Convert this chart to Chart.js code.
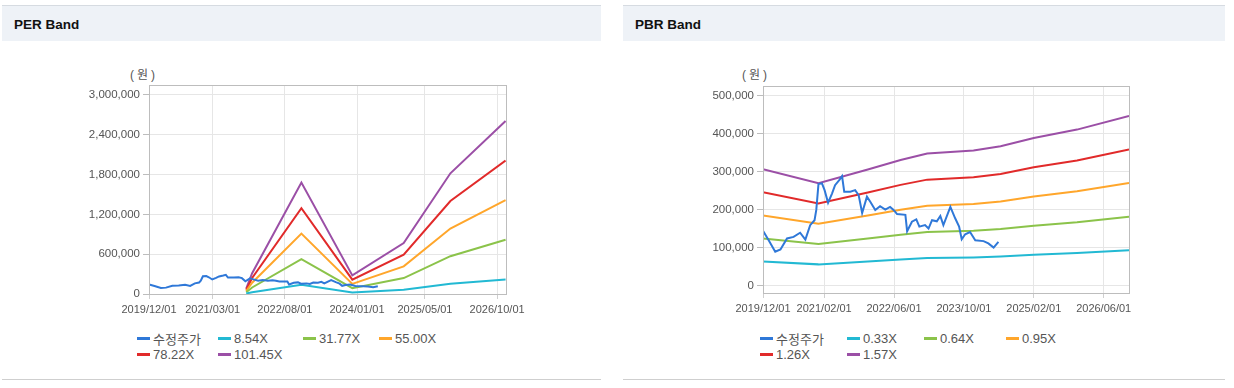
<!DOCTYPE html>
<html>
<head>
<meta charset="utf-8">
<script src="https://cdn.jsdelivr.net/npm/chart.js@4.4.1/dist/chart.umd.min.js"></script>
<style>
  body { margin: 0; width: 1234px; height: 388px; background: #fff; position: relative; overflow: hidden;
         font-family: "Liberation Sans", "Noto Sans CJK KR", sans-serif; }
  .panel { position: absolute; top: 5px; height: 373px; border-top: 1px solid #d6dbe1; border-bottom: 1px solid #cfcfcf; }
  .head { height: 35px; background: #eef2f7; font-weight: bold; font-size: 13.5px; line-height: 37px; color: #111; padding-left: 12px; }
  .unit { position: absolute; top: 65px; font-size: 12px; color: #555; letter-spacing: 3px; }
  canvas { position: absolute; }
  .legend { position: absolute; top: 330px; display: grid; font-size: 13px; color: #555; }
  .item { display: flex; align-items: center; height: 16.6px; white-space: nowrap; }
  .mark { width: 13px; height: 3px; margin-right: 3px; }
</style>
</head>
<body>
<div class="panel" style="left:2px;width:599px"><div class="head">PER Band</div></div>
<div class="panel" style="left:623px;width:602px"><div class="head">PBR Band</div></div>
<div class="unit" style="left:130px">(원)</div>
<div class="unit" style="left:742px">(원)</div>
<canvas id="perChart" width="480" height="240" style="left:60px;top:80px"></canvas>
<canvas id="pbrChart" width="470" height="240" style="left:690px;top:80px"></canvas>
<div class="legend" id="perLegend" style="left:137px;grid-template-columns:81px 85px 76px auto"></div>
<div class="legend" id="pbrLegend" style="left:760px;grid-template-columns:87px 77px 82px auto"></div>
<script>
// x axis is counted in months from 2019/12/01
const perTickMonths = [0, 15, 32, 49, 65, 82];
const perTickLabels = ['2019/12/01', '2021/03/01', '2022/08/01', '2024/01/01', '2025/05/01', '2026/10/01'];
const pbrTickMonths = [0, 14, 30, 46, 62, 78];
const pbrTickLabels = ['2019/12/01', '2021/02/01', '2022/06/01', '2023/10/01', '2025/02/01', '2026/06/01'];

const perYTicks = [0, 600000, 1200000, 1800000, 2400000, 3000000];
const pbrYTicks = [0, 100000, 200000, 300000, 400000, 500000];

// 수정주가
const priceMonths = [0, 1.3, 2.8, 4, 5.5, 7, 8.5, 9.7, 10.8, 11.8, 12.2, 12.7, 13.5, 14.1, 14.9, 15.8, 16.5, 17.5,
  18.1, 18.6, 20, 21.1, 21.9, 22.7, 23.8, 24.6, 25.7, 26.8, 28, 29.1, 29.9, 30.7, 32.6, 33, 34.1, 35.1, 35.8,
  37.1, 37.9, 38.7, 39.8, 40.6, 41.3, 42.9, 44, 44.9, 45.5, 46.3, 47.4, 48.6, 50.5, 51.6, 52.8, 53.9];
const priceValues = [145000, 120000, 90000, 96000, 125000, 129000, 140000, 122000, 160000, 173000, 200000, 268000,
  270000, 252000, 219000, 243000, 265000, 279000, 289000, 248000, 248000, 252000, 239000, 192000, 235000, 221000,
  200000, 210000, 201000, 208000, 200000, 189000, 187000, 144000, 169000, 175000, 156000, 160000, 151000, 173000,
  170000, 184000, 160000, 208000, 178000, 156000, 123000, 136000, 142000, 120000, 118000, 112000, 101000, 116000];

// PER bands
const perBandMonths = [22.9, 24.3, 35.9, 47.9, 60, 71, 84];
const per854  = [7000, 26000, 141000, 24000, 65000, 153000, 220000];
const per3177 = [26000, 98000, 526000, 88000, 240000, 570000, 817000];
const per5500 = [45000, 170000, 910000, 152000, 416000, 986000, 1414000];
const per7822 = [64000, 242000, 1294000, 216000, 592000, 1402000, 2011000];
const per10145 = [83000, 314000, 1679000, 280000, 767000, 1819000, 2608000];

// PBR bands
const pbrBandMonths = [0, 12.7, 24, 31.5, 37.6, 48.2, 54.4, 62, 71.9, 83.8];
const pbr033 = [64500, 56800, 64400, 69600, 73300, 74900, 77200, 81800, 86500, 94100];
const pbr064 = [125100, 110100, 124800, 135000, 142100, 145300, 149800, 158700, 167700, 182400];
const pbr095 = [185700, 163400, 185300, 200500, 210900, 215700, 222300, 235600, 248900, 270800];
const pbr126 = [246300, 216700, 245700, 265900, 279700, 286000, 294800, 312500, 330100, 359100];
const pbr157 = [306900, 270000, 306200, 331300, 348500, 356400, 367400, 389400, 411300, 447500];

const COLORS = ['#2f78d8', '#22b9d3', '#8bc34a', '#ffa62b', '#e12a2a', '#9b4fa6'];
const TICK_FONT = { family: '"Liberation Sans", "Noto Sans CJK KR", sans-serif', size: 11.5 };

const boxPlugin = {
  id: 'box',
  afterDraw(chart) {
    const a = chart.chartArea, ctx = chart.ctx;
    ctx.save();
    ctx.strokeStyle = '#bdbdbd';
    ctx.lineWidth = 1;
    ctx.strokeRect(Math.round(a.left) + 0.5, Math.round(a.top) + 0.5, Math.round(a.right - a.left), Math.round(a.bottom - a.top));
    ctx.restore();
  }
};

function series(label, xs, ys, color) {
  return {
    label, borderColor: color, backgroundColor: color,
    data: xs.map((x, i) => ({ x, y: ys[i] })),
    borderWidth: 2, pointRadius: 0, tension: 0, fill: false
  };
}

function bandChart(id, legendId, o) {
  const chart = new Chart(document.getElementById(id), {
    type: 'line',
    data: { datasets: o.sets },
    options: {
      responsive: false, animation: false, devicePixelRatio: 1,
      layout: { padding: o.padding },
      plugins: { legend: { display: false }, tooltip: { enabled: false } },
      scales: {
        x: {
          type: 'linear', min: 0, max: o.xMax,
          afterBuildTicks: s => { s.ticks = o.xTicks.map(v => ({ value: v })); },
          afterFit: s => { s.height = 24; s.paddingLeft = 0; s.paddingRight = 0; },
          ticks: { callback: (v, i) => o.xLabels[i], autoSkip: false, maxRotation: 0, color: '#555', font: { ...TICK_FONT, size: 11 }, padding: 4 },
          grid: { color: '#e6e6e6', tickLength: 5, tickColor: '#cfcfcf' },
          border: { color: '#bdbdbd' }
        },
        y: {
          min: o.yMin, max: o.yMax,
          afterBuildTicks: s => { s.ticks = o.yTicks.map(v => ({ value: v })); },
          afterFit: s => { s.width = o.yWidth; s.paddingTop = 0; s.paddingBottom = 0; },
          ticks: { callback: v => v.toLocaleString('en-US'), color: '#555', font: TICK_FONT, padding: 3 },
          grid: { color: '#e6e6e6', tickLength: 6, tickColor: '#bdbdbd' },
          border: { color: '#bdbdbd' }
        }
      }
    },
    plugins: [boxPlugin]
  });

  document.getElementById(legendId).innerHTML = o.sets.map(s =>
    `<div class="item"><span class="mark" style="background:${s.borderColor}"></span>${s.label}</div>`
  ).join('');
  return chart;
}

bandChart('perChart', 'perLegend', {
  sets: [
    series('수정주가', priceMonths, priceValues, COLORS[0]),
    series('8.54X', perBandMonths, per854, COLORS[1]),
    series('31.77X', perBandMonths, per3177, COLORS[2]),
    series('55.00X', perBandMonths, per5500, COLORS[3]),
    series('78.22X', perBandMonths, per7822, COLORS[4]),
    series('101.45X', perBandMonths, per10145, COLORS[5])
  ],
  padding: { left: 0, top: 5, right: 34, bottom: 2 },
  xMax: 84.1, xTicks: perTickMonths, xLabels: perTickLabels,
  yMin: 0, yMax: 3150000, yTicks: perYTicks, yWidth: 89
});

bandChart('pbrChart', 'pbrLegend', {
  sets: [
    series('수정주가', priceMonths, priceValues, COLORS[0]),
    series('0.33X', pbrBandMonths, pbr033, COLORS[1]),
    series('0.64X', pbrBandMonths, pbr064, COLORS[2]),
    series('0.95X', pbrBandMonths, pbr095, COLORS[3]),
    series('1.26X', pbrBandMonths, pbr126, COLORS[4]),
    series('1.57X', pbrBandMonths, pbr157, COLORS[5])
  ],
  padding: { left: 0, top: 6, right: 31, bottom: 3 },
  xMax: 83.8, xTicks: pbrTickMonths, xLabels: pbrTickLabels,
  yMin: -18500, yMax: 526000, yTicks: pbrYTicks, yWidth: 73
});
</script>
</body>
</html>
